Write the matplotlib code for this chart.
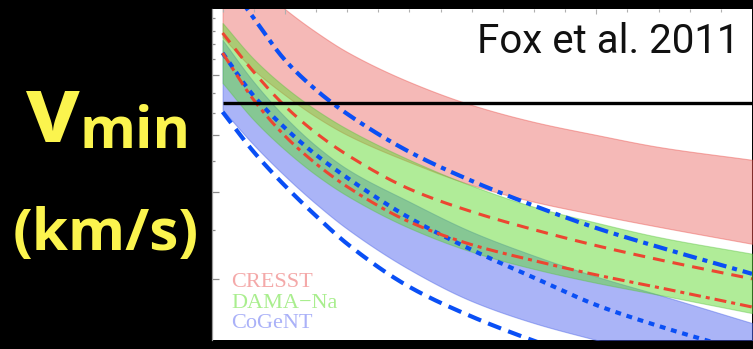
import numpy as np
import matplotlib
matplotlib.use("Agg")
import matplotlib.pyplot as plt
from matplotlib.ticker import FixedLocator, NullFormatter

# Dark matter mass (GeV) and minimum velocity curves (km/s)
mass = [8, 9, 10, 11, 12, 14, 16, 18, 20, 22, 25]

cresst_hi = [2093, 1732, 1477, 1289, 1146, 960, 838, 758, 702, 654, 606]
cresst_lo = [1250, 1031, 889, 781, 702, 598, 522, 473, 438, 408, 369]
dama_hi = [1360, 1100, 932, 814, 727, 606, 520, 459, 418, 384, 348]
dama_lo = [954, 767, 643, 554, 490, 405, 352, 318, 293, 273, 245]
cogent_hi = [1230, 960, 781, 658, 574, 473, 396, 344, 304, 273, 231]
cogent_lo = [814, 662, 551, 467, 403, 317, 263, 231, 209, 190, 165]

blue_dashdot = [1806, 1401, 1093, 916, 795, 635, 535, 462, 405, 362, 309]
blue_dotted = [1139, 884, 732, 624, 545, 430, 356, 302, 257, 227, 193]
blue_dashed = [804, 635, 520, 435, 369, 286, 240, 208, 184, 165, 143]
red_dashed = [1282, 1018, 833, 710, 624, 510, 446, 401, 365, 336, 300]
red_dashdot = [1139, 863, 698, 592, 517, 420, 367, 334, 307, 285, 254]

v_escape = 850

labels = ["CRESST", "DAMA\u2212Na", "CoGeNT"]
label_colors = ["#f4a9a9", "#a9ee8e", "#aab1f8"]


def smooth(xs, ys, n=24):
    """Monotone cubic curve through the points, in (x, log y)."""
    x = np.asarray(xs, float)
    y = np.log(np.asarray(ys, float))
    h = np.diff(x)
    d = np.diff(y) / h
    m = np.empty_like(x)
    m[0], m[-1] = d[0], d[-1]
    for k in range(1, len(x) - 1):
        if d[k - 1] * d[k] <= 0:
            m[k] = 0.0
        else:
            w1 = 2 * h[k] + h[k - 1]
            w2 = h[k] + 2 * h[k - 1]
            m[k] = (w1 + w2) / (w1 / d[k - 1] + w2 / d[k])
    xo, yo = [], []
    for k in range(len(x) - 1):
        t = np.linspace(0, 1, n, endpoint=(k == len(x) - 2))
        h00 = 2 * t**3 - 3 * t**2 + 1
        h10 = t**3 - 2 * t**2 + t
        h01 = -2 * t**3 + 3 * t**2
        h11 = t**3 - t**2
        xo.append(x[k] + t * h[k])
        yo.append(h00 * y[k] + h10 * h[k] * m[k] + h01 * y[k + 1] + h11 * h[k] * m[k + 1])
    return np.concatenate(xo), np.exp(np.concatenate(yo))


def band(ax, lo, hi, **kw):
    xs, ylo = smooth(mass, lo)
    _, yhi = smooth(mass, hi)
    ax.fill_between(xs, ylo, yhi, **kw)


def curve(ax, vals, **kw):
    xs, ys = smooth(mass, vals)
    ax.plot(xs, ys, **kw)


plt.rcParams["lines.scale_dashes"] = False

W, H = 753, 349
fig = plt.figure(figsize=(W / 100, H / 100), dpi=100, facecolor="black")
ax = fig.add_axes([212 / W, (H - 340) / H, (752 - 212) / W, (340 - 9) / H])
ax.set_facecolor("white")

ax.set_yscale("log")
ax.set_xlim(7.66, 25)
ax.set_ylim(209, 1477)

# Bands
band(ax, cresst_lo, cresst_hi, facecolor=(0.90, 0.24, 0.22, 0.36),
     edgecolor=(0.92, 0.35, 0.33, 0.45), linewidth=0.8, zorder=1)
band(ax, cogent_lo, cogent_hi, facecolor=(0.31, 0.39, 0.94, 0.48),
     edgecolor=(0.30, 0.40, 0.90, 0.45), linewidth=0.8, zorder=2)
band(ax, dama_lo, dama_hi, facecolor=(0.39, 0.86, 0.20, 0.50),
     edgecolor=(0.35, 0.75, 0.25, 0.40), linewidth=0.8, zorder=3)

blue = "#0a4ff5"
red = "#ec4631"
curve(ax, blue_dashed, color=blue, lw=3.0, dashes=(10, 5.5), zorder=5)
curve(ax, blue_dotted, color=blue, lw=3.0, dashes=(4.2, 4.2), zorder=5)
curve(ax, blue_dashdot, color=blue, lw=3.0, dashes=(10, 4.3, 3.6, 4.3), zorder=5)
curve(ax, red_dashed, color=red, lw=2.2, dashes=(8.6, 5.8), zorder=6)
curve(ax, red_dashdot, color=red, lw=2.2, dashes=(8.6, 3.6, 2.9, 3.6), zorder=6)

ax.hlines(v_escape, mass[0], mass[-1], color="black", lw=2.4, zorder=7)

# Axes styling
for side in ["right", "bottom", "top"]:
    ax.spines[side].set_visible(False)
ax.spines["left"].set_color("#9a9a9a")
ax.spines["left"].set_linewidth(0.9)

ax.yaxis.set_major_locator(FixedLocator([300, 500, 700, 1000]))
ax.yaxis.set_minor_locator(FixedLocator([400, 600, 800, 900, 1100, 1200, 1300, 1400]))
ax.xaxis.set_major_locator(FixedLocator([10, 20]))
ax.xaxis.set_minor_locator(FixedLocator([8, 9, 11, 12, 13, 14, 15, 16, 17, 18, 19, 21, 22, 23, 24]))
for axis in (ax.xaxis, ax.yaxis):
    axis.set_major_formatter(NullFormatter())
    axis.set_minor_formatter(NullFormatter())
ax.tick_params(axis="y", which="major", direction="in", length=4.8, width=0.9,
               color="#8a8a8a", left=True, right=False)
ax.tick_params(axis="y", which="minor", direction="in", length=2.2, width=0.9,
               color="#8a8a8a", left=True, right=False)
ax.tick_params(axis="x", which="major", direction="in", length=3.6, width=0.8,
               color="#b0b0b0", top=True, bottom=False)
ax.tick_params(axis="x", which="minor", direction="in", length=2.2, width=0.8,
               color="#b0b0b0", top=True, bottom=False)

# Legend labels
for i, (txt, col) in enumerate(zip(labels, label_colors)):
    fig.text(231 / W, (H - (287 + 20.5 * i)) / H, txt, color=col,
             fontsize=16, family="Liberation Serif", va="baseline", ha="left")

fig.text(739 / W, (H - 53) / H, "Fox et al. 2011", color="#111111",
         fontsize=29, family="Roboto", ha="right", va="baseline")

# Axis label on the dark margin
yellow = "#fbf44e"
fig.text(26 / W, (H - 142) / H, "v", color=yellow, fontsize=68,
         family="Open Sans", weight="bold", ha="left", va="baseline")
fig.text(80 / W, (H - 148) / H, "min", color=yellow, fontsize=41,
         family="Open Sans", weight="bold", ha="left", va="baseline")
fig.text(106 / W, (H - 250) / H, "(km/s)", color=yellow, fontsize=42,
         family="Open Sans", weight="bold", ha="center", va="baseline")

fig.savefig("out.png", dpi=100, facecolor="black")
